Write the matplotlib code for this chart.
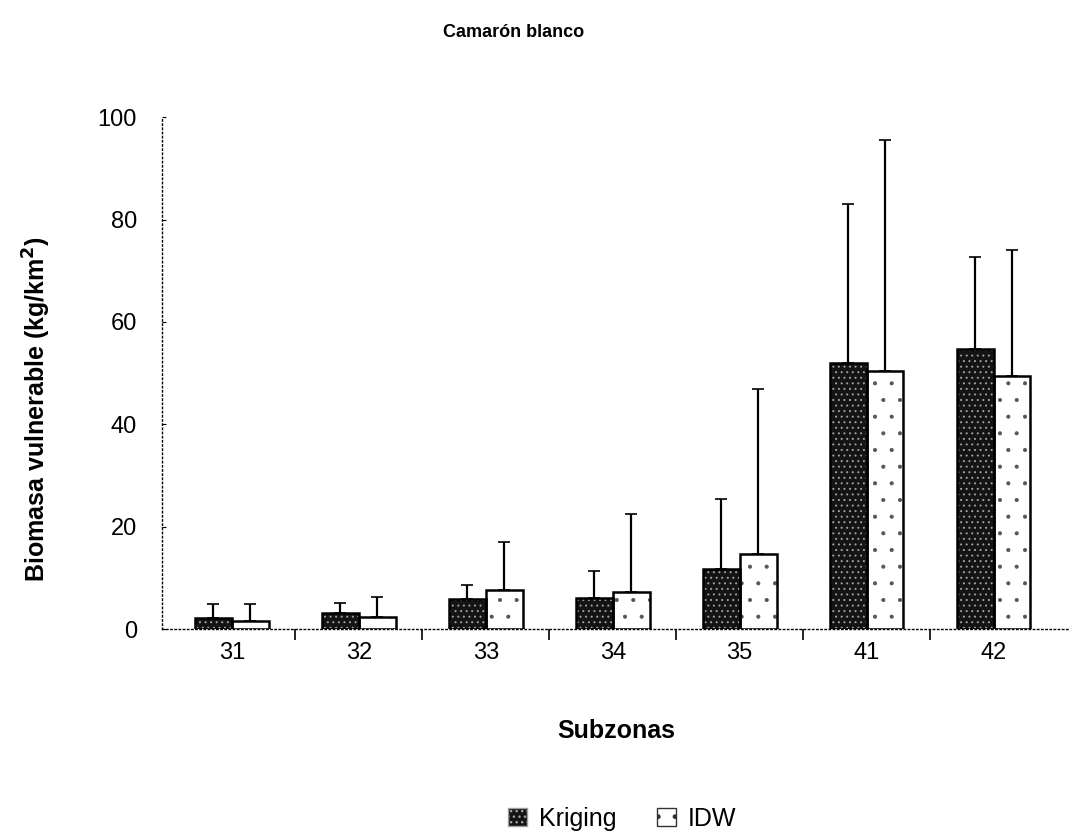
import numpy as np
import matplotlib.pyplot as plt
from matplotlib.patches import Patch

plt.rcParams['font.family'] = ['Liberation Sans', 'DejaVu Sans']

# Biomasa por subzona (media y desviacion superior)
subzonas = ['31', '32', '33', '34', '35', '41', '42']
kriging = [2.2, 3.2, 5.8, 6.0, 11.7, 52.0, 54.7]
kriging_err = [2.7, 1.9, 2.8, 5.3, 13.7, 31.0, 17.9]
idw = [1.6, 2.3, 7.6, 7.2, 14.6, 50.5, 49.4]
idw_err = [3.3, 3.9, 9.5, 15.3, 32.2, 45.0, 24.6]

x = np.arange(len(subzonas))
w = 0.29

fig = plt.figure(figsize=(10.73, 8.31), dpi=100)
ax = fig.add_axes([0.151, 0.243, 0.846, 0.616])

# Kriging: relleno oscuro con puntos claros
with plt.rc_context({'hatch.linewidth': 0.7}):
    ax.bar(x - w / 2, kriging, w, color='#141414', edgecolor='#a0a0a0', hatch='...', linewidth=0, zorder=2)
# IDW: blanco con puntos dispersos
with plt.rc_context({'hatch.linewidth': 0.5}):
    ax.bar(x + w / 2, idw, w, color='white', edgecolor='#555555', hatch='.', linewidth=0, zorder=2)
ax.bar(x - w / 2, kriging, w, fill=False, edgecolor='black', linewidth=1.8, zorder=3)
ax.bar(x + w / 2, idw, w, fill=False, edgecolor='black', linewidth=1.8, zorder=3)

# barras de error solo hacia arriba
ax.errorbar(x - w / 2, kriging, yerr=[np.zeros(len(x)), kriging_err], fmt='none',
            ecolor='black', elinewidth=1.6, capsize=4, capthick=1.2, zorder=4)
ax.errorbar(x + w / 2, idw, yerr=[np.zeros(len(x)), idw_err], fmt='none',
            ecolor='black', elinewidth=1.6, capsize=4, capthick=1.2, zorder=4)

ax.set_xlim(-0.55, 6.6)
ax.set_ylim(0, 100)
ax.set_yticks(np.arange(0, 101, 20))
ax.tick_params(axis='y', length=3, direction='in', pad=18, labelsize=17)
ax.set_xticks(x)
ax.set_xticklabels(subzonas)
ax.set_xticks(x[:-1] + 0.5, minor=True)
ax.tick_params(axis='x', which='major', length=0, pad=9, labelsize=17)
ax.tick_params(axis='x', which='minor', length=8, width=1.2, direction='out')

for side in ['top', 'right']:
    ax.spines[side].set_visible(False)
for side in ['left', 'bottom']:
    ax.spines[side].set_linestyle((0, (1, 2)))
    ax.spines[side].set_linewidth(1.0)

ax.set_ylabel('Biomasa vulnerable (kg/km$^{\\mathbf{2}}$)', fontsize=18, fontweight='bold')
ax.yaxis.set_label_coords(-0.12, 0.43)
ax.set_xlabel('Subzonas', fontsize=18, fontweight='bold', labelpad=40)
fig.text(0.479, 0.961, 'Camarón blanco', ha='center', va='center', fontsize=13, fontweight='bold')

handles = [Patch(facecolor='#141414', edgecolor='#a0a0a0', hatch='...'),
           Patch(facecolor='white', edgecolor='#333333', hatch='.')]
fig.legend(handles, ['Kriging', 'IDW'], loc='center', bbox_to_anchor=(0.58, 0.015),
           ncol=2, frameon=False, fontsize=18, handlelength=0.75, handleheight=0.75,
           handletextpad=0.5, columnspacing=1.6)

fig.savefig('out.png', dpi=100)
